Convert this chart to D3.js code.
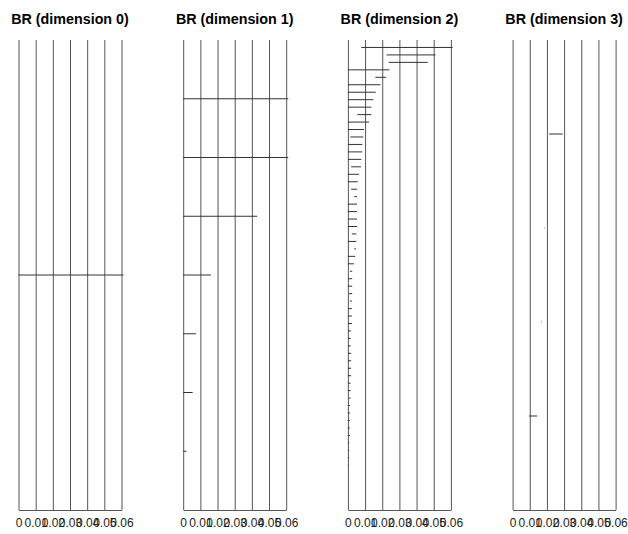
<!DOCTYPE html>
<html>
<head>
<meta charset="utf-8">
<script src="https://cdn.jsdelivr.net/npm/d3@7"></script>
<style>
  body { margin: 0; background: #fff; }
  svg { font-family: "Liberation Sans", Arial, Helvetica, sans-serif; }
</style>
</head>
<body>
<svg width="628" height="534"></svg>
<script>
// panel titles
const titles = ["BR (dimension 0)", "BR (dimension 1)", "BR (dimension 2)", "BR (dimension 3)"];

// x tick values shared by every panel
const tickValues = [0, 0.01, 0.02, 0.03, 0.04, 0.05, 0.06];

// intervals [birth, death] per dimension, top to bottom
const dim0 = [[0, 0.0612]];

const dim1 = [
    [0, 0.0612], [0, 0.0612], [0, 0.0431], [0, 0.0162],
    [0, 0.0074], [0, 0.0055], [0, 0.0019]
];

const dim2 = [
    [0.0078, 0.061], [0.0225, 0.051], [0.0238, 0.0465], [0, 0.0242],
    [0.016, 0.0223], [0, 0.019], [0, 0.0162], [0, 0.0148],
    [0, 0.0137], [0.0055, 0.0137], [0, 0.0123], [0, 0.0094],
    [0.0014, 0.009], [0, 0.0084], [0, 0.0084], [0, 0.0078],
    [0.0019, 0.0076], [0, 0.0065], [0, 0.0057], [0.0019, 0.0053],
    [0.0037, 0.0053], [0, 0.0053], [0, 0.0053], [0, 0.0053],
    [0, 0.0053], [0.0023, 0.0049], [0, 0.0049], [0.0037, 0.0047],
    [0, 0.0043], [0, 0.0035], [0.0012, 0.0025], [0, 0.0025],
    [0, 0.0025], [0.0006, 0.0025], [0.0012, 0.0023], [0, 0.0023],
    [0, 0.0023], [0, 0.0023], [0, 0.0019], [0, 0.0016],
    [0, 0.0016], [0, 0.0019], [0, 0.0019], [0, 0.0019],
    [0, 0.0019], [0, 0.0016], [0, 0.0016], [0.0006, 0.0016],
    [0, 0.0012], [0, 0.0012], [0, 0.0012], [0, 0.0012],
    [0, 0.0012], [0, 0.0008], [0, 0.0008], [0, 0.0008],
    [0, 0.0006], [0, 0], [0, 0], [0, 0], [0, 0], [0, 0]
];

const dim3 = [
    [0.0213, 0.0292], [0.0186, 0.0189], [0.0167, 0.0170], [0.0096, 0.0143]
];

const panels = [dim0, dim1, dim2, dim3];

const svg = d3.select('svg');

const plotTop = 40;
const plotBottom = 510;
const panelWidth = 103;

function tickFormat(d) {
    if (d === 0) {
        return "0";
    }
    return d3.format(".2f")(d);
}

panels.forEach(function(bars, p) {

    const left = 18.5 + p * 164.7;

    const x = d3.scaleLinear()
        .domain([0, 0.06])
        .range([left, left + panelWidth]);

    // bars sit at i/(n+1) of the height
    const y = d3.scaleLinear()
        .domain([0, bars.length + 1])
        .range([plotTop, plotBottom]);

    const g = svg.append('g').classed('panel', true);

    g.append('text')
        .attr('x', left + panelWidth / 2)
        .attr('y', 24)
        .attr('text-anchor', 'middle')
        .attr('font-size', 14.3)
        .attr('font-weight', 'bold')
        .attr('fill', '#000')
        .text(titles[p]);

    const axis = g.append('g')
        .attr('transform', 'translate(0,' + plotBottom + ')')
        .call(d3.axisBottom(x)
            .tickValues(tickValues)
            .tickFormat(tickFormat)
            .tickSize(-(plotBottom - plotTop))
            .tickSizeOuter(0)
            .tickPadding(8));

    axis.select('.domain').attr('stroke', '#555');
    axis.selectAll('.tick line').attr('stroke', '#555');
    axis.selectAll('.tick text')
        .attr('font-size', 12)
        .attr('font-family', '"Liberation Sans", Arial, sans-serif')
        .attr('fill', '#222');

    g.selectAll('.bar')
        .data(bars)
        .enter()
        .append('line')
        .classed('bar', true)
        .attr('x1', (d) => x(d[0]))
        .attr('x2', (d) => x(d[1]))
        .attr('y1', (d, i) => y(i + 1))
        .attr('y2', (d, i) => y(i + 1))
        .attr('stroke', '#333')
        .attr('stroke-width', 1);

});
</script>
</body>
</html>
